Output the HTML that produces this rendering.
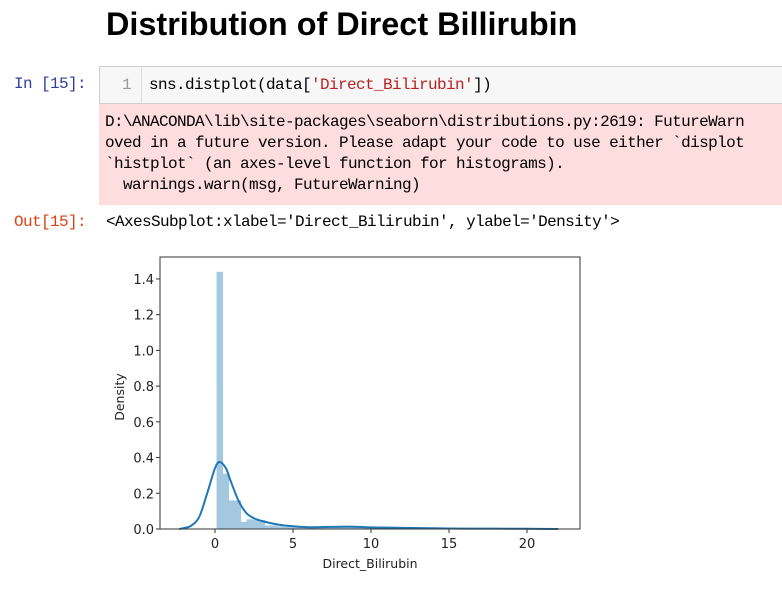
<!DOCTYPE html>
<html><head><meta charset="utf-8"><style>
body{margin:0;width:782px;height:595px;background:#fff;position:relative;overflow:hidden;font-family:"Liberation Sans",sans-serif}
.mono{font-family:"Liberation Mono","DejaVu Sans Mono",monospace;font-size:16px;letter-spacing:-0.6px}
</style></head><body>
<div style="position:absolute;left:106px;top:6px;font-size:32.4px;font-weight:bold;color:#000">Distribution of Direct Billirubin</div>
<div class="mono" style="position:absolute;left:14px;top:75px;color:#303f9f">In [15]:</div>
<div class="mono" style="position:absolute;left:99px;top:66px;width:690px;height:36px;background:#f7f7f7;border:1px solid #cfcfcf;">
<span style="position:absolute;left:0;top:0;width:42px;height:36px;border-right:1px solid #ddd;color:#999;text-align:right;line-height:36px;box-sizing:border-box;padding-right:10px">1</span>
<span style="position:absolute;left:49px;top:0;line-height:36px;white-space:pre">sns.distplot(data[<span style="color:#ba2121">'Direct_Bilirubin'</span>])</span></div>
<div class="mono" style="position:absolute;left:99px;top:104px;width:690px;height:101px;background:#fddddd;white-space:pre;line-height:21px;padding:8px 0 0 6px;box-sizing:border-box;color:#000;overflow:hidden">D:\ANACONDA\lib\site-packages\seaborn\distributions.py:2619: FutureWarn
oved in a future version. Please adapt your code to use either `displot
`histplot` (an axes-level function for histograms).
  warnings.warn(msg, FutureWarning)</div>
<div class="mono" style="position:absolute;left:14px;top:213px;color:#d84315">Out[15]:</div>
<div class="mono" style="position:absolute;left:106px;top:213px;color:#000;white-space:pre">&lt;AxesSubplot:xlabel='Direct_Bilirubin', ylabel='Density'&gt;</div>
<svg id="chart" style="position:absolute;left:0;top:0" width="782" height="595"><g id="bars" opacity="0.4"></g></svg>
<script>
const binStart=0.1, binWidth=0.385;
const binValues=[1.44,0.31,0.16,0.16,0.04,0.055,0.05,0.05,0.02,0.02,0.015,0.012,0.01,0.008,0.008,0.007,0.006,0.006,0.007,0.008,0.01,0.01,0.009,0.008,0.006,0.005,0.004,0.004,0.003,0.003,0.003,0.002,0.002,0.002,0.002,0.002,0.001,0.001,0.001,0.001,0.001,0.001,0.001,0.001,0.001,0.001,0.001,0.001,0.001,0.001];
const kdeX=[-2.3,-2,-1.5,-1,-0.5,0,0.3,0.7,1,1.5,2,2.5,3,4,5,6,7,8,9,10,12,15,18,20,22];
const kdeY=[0,0.005,0.02,0.07,0.2,0.34,0.375,0.34,0.27,0.16,0.09,0.06,0.045,0.025,0.015,0.01,0.011,0.013,0.013,0.009,0.006,0.003,0.002,0.001,0];
const xTicks=[0,5,10,15,20], yTicks=[0,0.2,0.4,0.6,0.8,1.0,1.2,1.4];
const L=160,R=580,T=257,B=529;
const sx=v=>215+v*15.6, sy=v=>B-v*178.6;
const svg=document.getElementById('chart'),NS='http://www.w3.org/2000/svg';
const bars=document.getElementById('bars');


function mk(t,a,par){const e=document.createElementNS(NS,t);for(const k in a)e.setAttribute(k,a[k]);(par||svg).appendChild(e);return e;}
binValues.forEach((v,i)=>{const x0=sx(binStart+i*binWidth),x1=sx(binStart+(i+1)*binWidth);
const r=mk('rect',{x:x0,y:sy(v),width:x1-x0+0.5,height:B-sy(v),fill:'#1f77b4'},bars);

});
const pts=kdeX.map((x,i)=>[sx(x),sy(kdeY[i])]);
let d='M'+pts[0][0]+','+pts[0][1];
for(let i=0;i<pts.length-1;i++){const p0=pts[Math.max(i-1,0)],p1=pts[i],p2=pts[i+1],p3=pts[Math.min(i+2,pts.length-1)];
d+='C'+(p1[0]+(p2[0]-p0[0])/6).toFixed(1)+','+(p1[1]+(p2[1]-p0[1])/6).toFixed(1)+' '+(p2[0]-(p3[0]-p1[0])/6).toFixed(1)+','+(p2[1]-(p3[1]-p1[1])/6).toFixed(1)+' '+p2[0].toFixed(1)+','+p2[1].toFixed(1);}
const p=mk('path',{d:d,fill:'none',stroke:'#1f77b4','stroke-width':2,'stroke-linejoin':'round'});


const f=mk('rect',{x:L,y:T,width:R-L,height:B-T,fill:'none',stroke:'#333','stroke-width':1});


xTicks.forEach(v=>{mk('line',{x1:sx(v),x2:sx(v),y1:B,y2:B+4,stroke:'#333'});
const t=mk('text',{x:sx(v),y:B+19,'text-anchor':'middle','font-size':13,fill:'#222','font-family':'DejaVu Sans, sans-serif'});t.textContent=v;

});
yTicks.forEach(v=>{mk('line',{x1:L-4,x2:L,y1:sy(v),y2:sy(v),stroke:'#333'});
const t=mk('text',{x:L-6,y:sy(v)+5,'text-anchor':'end','font-size':13,fill:'#222','font-family':'DejaVu Sans, sans-serif'});t.textContent=v.toFixed(1);

});
const xl=mk('text',{x:370,y:568,'text-anchor':'middle','font-size':12.5,fill:'#222','font-family':'DejaVu Sans, sans-serif'});xl.textContent='Direct_Bilirubin';


const yl=mk('text',{x:124,y:397,'text-anchor':'middle','font-size':12.5,fill:'#222','font-family':'DejaVu Sans, sans-serif',transform:'rotate(-90 124 397)'});yl.textContent='Density';


</script>
</body></html>
